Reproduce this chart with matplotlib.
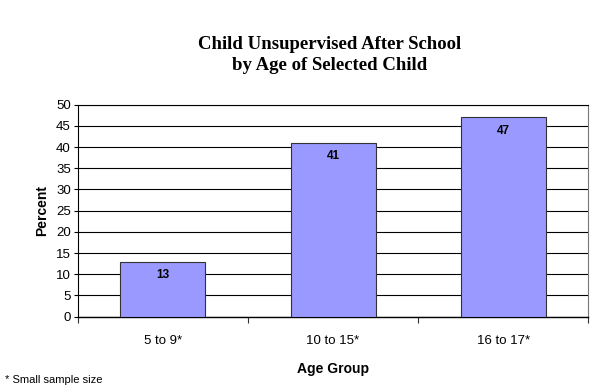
import matplotlib.pyplot as plt

plt.rcParams['font.family'] = ['Liberation Sans', 'DejaVu Sans']

# Percent of children unsupervised after school, by age group
age_groups = ['5 to 9*', '10 to 15*', '16 to 17*']
percents = [13, 41, 47]
y_ticks = list(range(0, 55, 5))


def draw_chart(output_path):
    """Draw the bar chart and save it."""
    fig = plt.figure(figsize=(5.99, 3.89), dpi=100)
    ax = fig.add_axes([0.130, 0.186, 0.852, 0.545])

    x = range(len(age_groups))
    bars = ax.bar(x, percents, width=0.5, color='#9999FF',
                  edgecolor='#333333', linewidth=0.8, zorder=3)

    # Value labels just inside the top of each bar
    for bar, val in zip(bars, percents):
        ax.text(bar.get_x() + bar.get_width() / 2, val - 3.2, f'{val}',
                ha='center', va='center', fontsize=8.5, fontweight='bold', zorder=4)

    ax.set_xlim(-0.5, len(age_groups) - 0.5)
    ax.set_ylim(0, 50)
    ax.set_yticks(y_ticks)
    ax.set_xticks(x)
    ax.set_xticklabels(age_groups, fontsize=9.5)
    ax.tick_params(axis='x', length=0, pad=13)
    ax.tick_params(axis='y', labelsize=9.5, length=3, width=0.8, pad=2)

    # Category separator ticks on the x axis
    ax.set_xticks([-0.5 + i for i in range(len(age_groups) + 1)], minor=True)
    ax.tick_params(axis='x', which='minor', length=4, width=0.8, color='#333333')

    ax.yaxis.grid(True, color='black', linewidth=0.8, zorder=0)
    ax.set_axisbelow(True)
    ax.spines['right'].set_color('#777777')
    for side in ['top', 'right', 'left']:
        ax.spines[side].set_linewidth(0.8)
    ax.spines['bottom'].set_linewidth(1.0)

    ax.set_ylabel('Percent', fontsize=10, fontweight='bold', labelpad=5)
    ax.set_xlabel('Age Group', fontsize=10, fontweight='bold', labelpad=11)

    fig.text(0.551, 0.858, 'Child Unsupervised After School\nby Age of Selected Child',
             ha='center', va='center', fontsize=13.5, fontweight='bold',
             family='Liberation Serif', linespacing=1.3)
    fig.text(0.008, 0.022, '* Small sample size', ha='left', va='center', fontsize=8)

    fig.savefig(output_path, dpi=100)
    print(f"Chart saved to {output_path}")


def main():
    draw_chart('out.png')


if __name__ == "__main__":
    main()
